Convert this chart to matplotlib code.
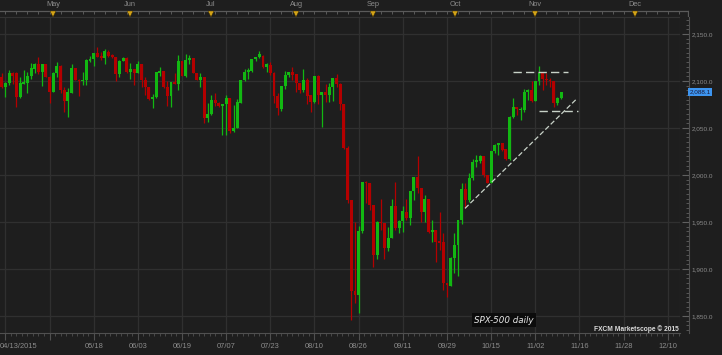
import matplotlib.pyplot as plt
import numpy as np
from matplotlib.ticker import FixedLocator, FuncFormatter
import matplotlib.transforms as mtransforms

# daily SPX-500 candles
opens = [2104, 2094, 2097.5, 2108, 2108, 2082.5, 2097, 2098, 2105.5, 2113,
         2118, 2109.5, 2118, 2104.5, 2088.5, 2108, 2116, 2090, 2079, 2087.5,
         2113.5, 2101, 2099.5, 2100.5, 2121, 2123, 2130, 2126.5, 2124, 2131,
         2127.5, 2125, 2107, 2121, 2124, 2110, 2112.5, 2108, 2117.5, 2101,
         2094, 2081, 2082.5, 2108, 2110.5, 2094, 2084.5, 2098.5, 2097, 2121.5,
         2105.5, 2122, 2124.5, 2108, 2101, 2104, 2060.5, 2065, 2080, 2077,
         2073, 2075.5, 2081.5, 2046.5, 2050, 2077, 2100.5, 2110, 2110.5, 2123,
         2125, 2126, 2115, 2117, 2108, 2084.5, 2070, 2094.5, 2106.5, 2109,
         2107.5, 2097.5, 2090.5, 2101, 2085, 2078, 2105.5, 2085, 2088.5, 2085,
         2093.5, 2103, 2096.5, 2076, 2028.5, 1973.5, 1876.5, 1872.5, 1940.5, 1993,
         1991, 1968, 1915, 1950.5, 1949, 1922.5, 1933.5, 1967.5, 1943.5, 1951,
         1961, 1954, 1982.5, 1998, 1986.5, 1961, 1974, 1939.5, 1942, 1930,
         1929, 1885, 1882, 1911.5, 1926, 1952, 1985, 1973.5, 1997, 2013.5,
         2015, 2020, 2000, 1992, 2026, 2032, 2033.5, 2027.5, 2016.5, 2062,
         2072.5, 2069.5, 2069, 2088.5, 2090.5, 2079, 2099.5, 2108, 2102, 2101,
         2100, 2077, 2081.5]
highs = [2108, 2099, 2112, 2110, 2109, 2104.5, 2111.5, 2109, 2119.5, 2119.5,
         2125, 2118, 2118, 2105, 2109, 2120, 2117, 2094, 2092, 2118,
         2113.5, 2102, 2110, 2123, 2126, 2130, 2136, 2131, 2133.5, 2132.5,
         2128.5, 2125.5, 2122, 2125, 2125, 2119, 2112.5, 2121.5, 2117.5, 2104,
         2094, 2086, 2109, 2114.5, 2110.5, 2099.5, 2098.5, 2108, 2127.5, 2121.5,
         2128.5, 2127.5, 2124.5, 2108, 2108, 2104, 2076.5, 2085, 2087, 2078,
         2075.5, 2085, 2081.5, 2074.5, 2081, 2101, 2112.5, 2113.5, 2123, 2125.5,
         2132, 2128, 2119.5, 2120.5, 2109, 2087, 2094.5, 2110.5, 2110, 2115,
         2107.5, 2097.5, 2112.5, 2103, 2085, 2105.5, 2106.5, 2088.5, 2097, 2097.5,
         2103, 2107.5, 2097.5, 2076, 2031, 1973.5, 1950.5, 1945.5, 1993, 1994,
         1991, 1968, 1951, 1975, 1949, 1945, 1975, 1993, 1952, 1967,
         1975, 1982.5, 1998, 2020, 1986.5, 1978.5, 1974, 1952, 1942, 1961,
         1938, 1885, 1913, 1938, 1952, 1991, 1991, 2002, 2017.5, 2021.5,
         2021.5, 2020, 2000, 2026, 2032.5, 2033.5, 2034.5, 2027.5, 2063, 2081.5,
         2072.5, 2072.5, 2091, 2091, 2100, 2099.5, 2116, 2110, 2108, 2103,
         2100, 2082.5, 2088.5]
lows = [2093, 2083, 2096, 2097, 2072, 2082, 2096.5, 2087, 2102, 2108,
        2107, 2094.5, 2104, 2076.5, 2088, 2104.5, 2087, 2066.5, 2062, 2087.5,
        2100.5, 2084, 2096, 2096, 2120, 2116, 2125, 2122, 2118, 2125.5,
        2124, 2099.5, 2104.5, 2121, 2108, 2102, 2096, 2108, 2093.5, 2085,
        2080, 2071, 2082, 2105.5, 2092.5, 2073, 2072, 2096.5, 2090.5, 2105,
        2104.5, 2118.5, 2108, 2100.5, 2094, 2055, 2056, 2064, 2073, 2072,
        2043, 2043, 2044.5, 2045.5, 2049.5, 2077, 2100, 2102, 2110, 2121.5,
        2124, 2114, 2110, 2106.5, 2077, 2064, 2068.5, 2091.5, 2104.5, 2101,
        2088, 2087, 2088.5, 2076, 2067.5, 2077, 2076, 2051.5, 2078, 2078,
        2079, 2094, 2069, 2028, 1970.5, 1845.5, 1863.5, 1853, 1938, 1970,
        1963, 1902.5, 1910.5, 1941.5, 1910.5, 1919.5, 1932.5, 1941.5, 1938, 1939.5,
        1952, 1947, 1973.5, 1980.5, 1950.5, 1950.5, 1938, 1929, 1908, 1920,
        1877.5, 1870.5, 1882, 1895.5, 1892.5, 1948, 1964.5, 1971.5, 1994.5, 2009,
        2012.5, 1998, 1991, 1992, 2023, 2021.5, 2025, 2016, 2016, 2060.5,
        2064, 2058.5, 2067.5, 2080, 2078, 2078.5, 2095.5, 2090.5, 2095.5, 2094,
        2072.5, 2074.5, 2080.5]
closes = [2094, 2098, 2108, 2105, 2082.5, 2098, 2099, 2105.5, 2113.5, 2117.5,
          2109.5, 2118, 2104.5, 2088.5, 2108, 2116, 2090, 2079, 2088.5, 2113.5,
          2101, 2099.5, 2101, 2122, 2123, 2130, 2125.5, 2124, 2131.5, 2126.5,
          2125, 2107, 2121.5, 2124, 2110, 2112.5, 2108, 2117.5, 2100.5, 2094,
          2081, 2082.5, 2109, 2110.5, 2094, 2084.5, 2098.5, 2097, 2121.5, 2105.5,
          2122, 2124.5, 2108, 2101, 2104, 2060.5, 2065, 2080, 2076.5, 2073,
          2075.5, 2081.5, 2046.5, 2050, 2078, 2101, 2110, 2111.5, 2123, 2125.5,
          2129, 2115, 2117.5, 2108, 2084.5, 2071, 2094.5, 2106.5, 2110, 2106.5,
          2097.5, 2090.5, 2101, 2084.5, 2078, 2105.5, 2085, 2088.5, 2085, 2093.5,
          2103, 2096.5, 2076, 2028.5, 1973.5, 1876.5, 1872.5, 1940.5, 1993, 1991,
          1968, 1915, 1950.5, 1948.5, 1922.5, 1933.5, 1967.5, 1943.5, 1951, 1961.5,
          1954, 1982.5, 1998, 1986, 1961, 1974, 1939.5, 1942, 1929, 1928,
          1885, 1883, 1911.5, 1926, 1952, 1985, 1973.5, 1997, 2013.5, 2016,
          2020, 2000, 1992, 2026, 2032, 2033.5, 2026.5, 2016.5, 2062, 2072.5,
          2070, 2070.5, 2088.5, 2090.5, 2079, 2099.5, 2108, 2102, 2100.5, 2099.5,
          2077, 2081.5, 2088.1]

date_labels = ["04/13/2015", "", "05/18", "06/03", "06/19", "07/07", "07/23", "08/10",
               "08/26", "09/11", "09/29", "10/15", "11/02", "11/16", "11/28", "12/10"]
date_ticks = list(range(1, 185, 12))
month_labels = ["May", "Jun", "Jul", "Aug", "Sep", "Oct", "Nov", "Dec"]
month_pos = [14.0, 34.9, 56.9, 80.0, 100.9, 123.2, 144.9, 172.1]
price_ticks = [1850, 1900, 1950, 2000, 2050, 2100, 2150]
last_price = 2088.1

# hand drawn lines on the chart (bar index, price)
resist_x, resist_y = [138.9, 154.0], [2110, 2110]
support_x, support_y = [146.0, 156.5], [2068.5, 2068.5]
trend_x, trend_y = [125.9, 156.0], [1964.5, 2080]

BG = '#1e1e1e'
GRID = '#303030'
TXT = '#8c8c8c'
UP = '#12b812'
DN = '#b40000'

W, H = 722, 355
px_bar = 3.68
x_left = -0.46
ylim = (1832, 2168)

fig = plt.figure(figsize=(W / 100, H / 100), dpi=100)
fig.patch.set_facecolor(BG)
plt.rcParams['font.family'] = ['Liberation Sans', 'DejaVu Sans']

# main price panel
ax = fig.add_axes([0, (H - 333) / H, 680 / W, 316 / H])
ax.set_facecolor(BG)
ax.set_xlim(x_left, x_left + 680 / px_bar)
ax.set_ylim(*ylim)

o = np.array(opens); h = np.array(highs); l = np.array(lows); c = np.array(closes)
idx = np.arange(len(o))
cols = np.where(c >= o, UP, DN)
body = np.abs(c - o)
body = np.where(body < 0.9, 0.9, body)
ax.vlines(idx, l, h, colors=cols, lw=0.9, zorder=3)
ax.bar(idx, body, bottom=np.minimum(o, c), width=0.8, color=cols, zorder=4, linewidth=0)

for v in price_ticks:
    ax.axhline(v, color=GRID, lw=0.9, zorder=1)
ax.set_xticks(date_ticks)
ax.set_xticklabels([""] + date_labels[1:], fontsize=5.4, color=TXT)
ax.xaxis.set_minor_locator(FixedLocator(np.arange(1, 185, 1.5)))
ax.grid(axis='x', color=GRID, lw=0.9, zorder=1)
ax.tick_params(axis='x', which='major', length=5, color='#505050', pad=2.5)
ax.tick_params(axis='x', which='minor', length=2, color='#505050')
btr = mtransforms.blended_transform_factory(ax.transData, ax.transAxes)
ax.text(x_left, -0.042, date_labels[0], transform=btr, ha='left', va='center',
        fontsize=5.4, color=TXT)
ax.set_yticks([])
ax.spines['left'].set_visible(False)
ax.spines['top'].set_color('#333333')
ax.spines['right'].set_color('#333333')
ax.spines['bottom'].set_color('#505050')

ax.plot(resist_x, resist_y, color='#c8d2c8', lw=1.0, ls=(0, (6, 3)), zorder=5)
ax.plot(support_x, support_y, color='#c8d2c8', lw=1.0, ls=(0, (6, 3)), zorder=5)
ax.plot(trend_x, trend_y, color='#c8d2c8', lw=0.9, ls=(0, (4, 2)), zorder=5)

ax.text(0.741, 0.041, "SPX-500 daily", transform=ax.transAxes, ha='center', va='center',
        fontsize=6.3, style='italic', color='#e8e8e8', family='DejaVu Sans',
        bbox=dict(facecolor='#0c0c0c', edgecolor='none', pad=1.5), zorder=6)
ax.text(0.998, 0.013, "FXCM Marketscope © 2015", transform=ax.transAxes, ha='right',
        va='center', fontsize=4.8, weight='bold', color='#dcdcdc', zorder=6)

# price scale
axp = fig.add_axes([680 / W, (H - 333) / H, 9 / W, 316 / H])
axp.set_facecolor(BG)
axp.set_ylim(*ylim)
axp.set_xticks([])
for s in ['left', 'top', 'bottom']:
    axp.spines[s].set_visible(False)
axp.spines['right'].set_color('#505050')
axp.yaxis.tick_right()
axp.set_yticks(price_ticks)
axp.yaxis.set_minor_locator(FixedLocator(np.arange(1835, 2170, 5)))
axp.yaxis.set_major_formatter(FuncFormatter(lambda v, p: f"{v:,.1f}"))
axp.tick_params(axis='y', which='major', direction='in', length=5, color='#606060',
                labelsize=4.6, labelcolor=TXT, pad=2)
axp.tick_params(axis='y', which='minor', direction='in', length=2.2, color='#606060')
tr = mtransforms.blended_transform_factory(axp.transAxes, axp.transData)
axp.text(1.08, last_price, f"{last_price:,.1f}", transform=tr, ha='left', va='center',
         fontsize=4.6, color='#1a1a3a',
         bbox=dict(facecolor='#3d95f0', edgecolor='none', pad=1.0))

# month band on top
axt = fig.add_axes([0, (H - 17) / H, 689 / W, 17 / H])
axt.set_facecolor(BG)
axt.set_xlim(x_left, x_left + 689 / px_bar)
axt.set_ylim(17, 0)
axt.axis('off')
axt.axhline(10.5, color='#5a5a5a', lw=0.9)
axt.vlines(np.arange(1, 187, 3), 10.5, 13.5, color='#5a5a5a', lw=0.7)
axt.plot([x_left + 688.5 / px_bar] * 2, [10.5, 17], color='#5a5a5a', lw=0.9)
axt.plot(month_pos, [13.6] * len(month_pos), 'v', color='#d4a418', ms=4.2, mec='#3a2a00', mew=0.3)
for m, xp in zip(month_labels, month_pos):
    axt.text(xp, 5, m, ha='center', va='center', fontsize=5.3, color=TXT)

fig.savefig('out.png', dpi=100, facecolor=BG)
